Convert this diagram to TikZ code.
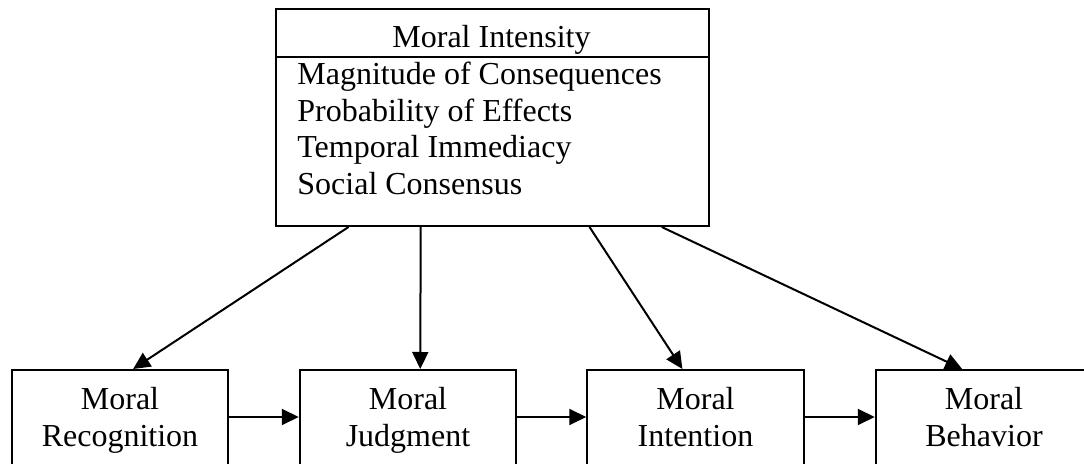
\documentclass[tikz,border=0pt]{standalone}
\usepackage{fontspec}
\setmainfont{Liberation Serif}
\usetikzlibrary{arrows.meta,calc}
\begin{document}
\begin{tikzpicture}[x=0.5pt,y=-0.5pt,
  frame/.style={draw,line width=1pt,inner sep=0pt},
  stagebox/.style={frame,minimum width=108.25pt,minimum height=60pt,anchor=north},
  txt/.style={font=\fontsize{16}{18.5}\selectfont,inner sep=0pt,anchor=base},
  conn/.style={line width=1pt,-{Triangle[length=8.5pt,width=8pt]}}]
\useasboundingbox (0,0) rectangle (1084,464);
\clip (0,0) rectangle (1084,464);

% Moral intensity box with its components
\node[frame,minimum width=216.5pt,minimum height=108.5pt,anchor=north west] (mi) at (275,8) {};
\coordinate (div) at (0,57);
\draw[line width=1pt] (mi.west |- div) -- (mi.east |- div);
\node[txt] (title) at (491.5,48) {Moral Intensity};
\node[txt,anchor=base west] (f1) at (297,85) {Magnitude of Consequences};
\node[txt,anchor=base west] (f2) at (297,122) {Probability of Effects};
\node[txt,anchor=base west] (f3) at (297,158) {Temporal Immediacy};
\node[txt,anchor=base west] (f4) at (297,195) {Social Consensus};

% Four stages of ethical decision making
\node[stagebox] (b1) at (120,369) {};
\node[stagebox] (b2) at (408,369) {};
\node[stagebox] (b3) at (695.5,369) {};
\node[stagebox] (b4) at (984,369) {};
\node[txt] (b1a) at (120,410) {Moral};
\node[txt] (b1b) at (120,447) {Recognition};
\node[txt] (b2a) at (408,410) {Moral};
\node[txt] (b2b) at (408,447) {Judgment};
\node[txt] (b3a) at (695.5,410) {Moral};
\node[txt] (b3b) at (695.5,447) {Intention};
\node[txt] (b4a) at (984,410) {Moral};
\node[txt] (b4b) at (984,447) {Behavior};

% Sequence arrows
\coordinate (h) at (0,417);
\draw[conn] (b1.east |- h) -- (b2.west |- h);
\draw[conn] (b2.east |- h) -- (b3.west |- h);
\draw[conn] (b3.east |- h) -- (b4.west |- h);

% Influence of moral intensity on each stage
\draw[conn] ($(mi.south west)!0.169!(mi.south east)$) -- ($(b1.north west)!0.56!(b1.north east)$);
\draw[conn] ($(mi.south west)!0.335!(mi.south east)$) -- ($(b2.north west)!0.556!(b2.north east)$);
\draw[conn] ($(mi.south west)!0.723!(mi.south east)$) -- ($(b3.north west)!0.44!(b3.north east)$);
\draw[conn] ($(mi.south west)!0.889!(mi.south east)$) -- ($(b4.north west)!0.40!(b4.north east)$);
\end{tikzpicture}
\end{document}
